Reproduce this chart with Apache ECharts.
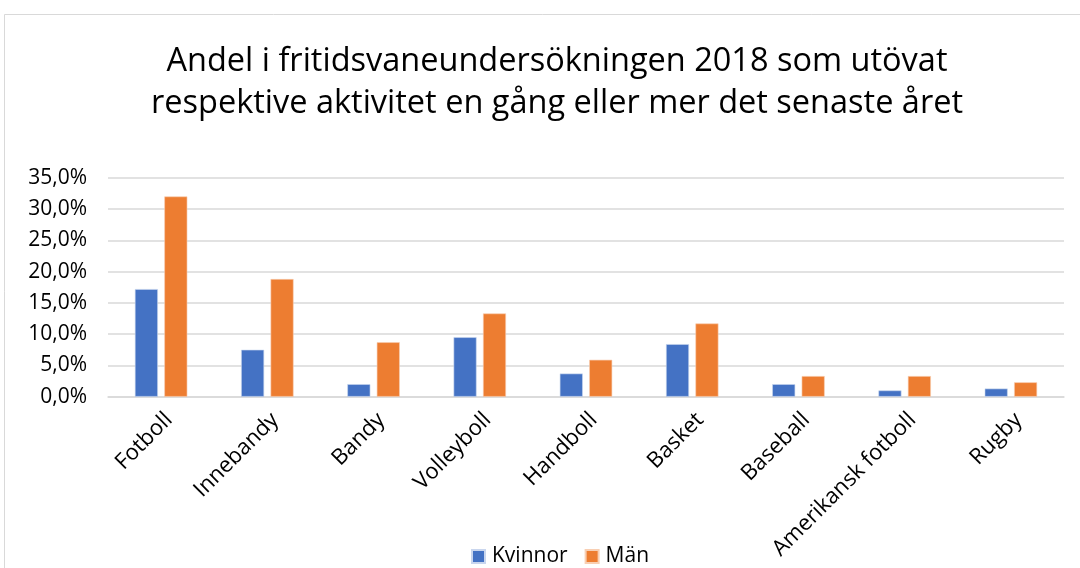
<!DOCTYPE html>
<html>
<head>
<meta charset="utf-8">
<script src="https://cdn.jsdelivr.net/npm/echarts@6/dist/echarts.min.js"></script>
<style>html,body{margin:0;padding:0;background:#fff;}#c{width:1080px;height:568px;}</style>
</head>
<body>
<div id="c"></div>
<script>
const titleText = 'Andel i fritidsvaneundersökningen 2018 som utövat\nrespektive aktivitet en gång eller mer det senaste året';
const categories = ['Fotboll','Innebandy','Bandy','Volleyboll','Handboll','Basket','Baseball','Amerikansk fotboll','Rugby'];
const seriesNames = ['Kvinnor','Män'];
const kvinnor = [17.2, 7.5, 2.0, 9.5, 3.7, 8.4, 2.0, 1.0, 1.3];
const man = [32.0, 18.8, 8.7, 13.3, 5.9, 11.7, 3.3, 3.3, 2.3];
const yTicks = [0, 5, 10, 15, 20, 25, 30, 35];

const FONT = 'Open Sans';
const fmt = v => v.toFixed(1).replace('.', ',') + '%';

const chart = echarts.init(document.getElementById('c'), null, {renderer: 'canvas'});
chart.setOption({
  backgroundColor: '#fff',
  animation: false,
  graphic: [{
    type: 'rect', silent: true, z: -1,
    shape: {x: 4.5, y: 14.5, width: 1200, height: 700},
    style: {fill: '#fff', stroke: '#d9d9d9', lineWidth: 1}
  }],
  title: {
    text: titleText,
    left: 552, top: 36, textAlign: 'center',
    textStyle: {fontFamily: FONT, fontSize: 32.5, fontWeight: 'normal', color: '#000', lineHeight: 42}
  },
  legend: {
    data: seriesNames,
    left: 466, top: 541,
    itemWidth: 13, itemHeight: 13, itemGap: 17,
    icon: 'rect',
    textStyle: {fontFamily: FONT, fontSize: 21, color: '#000', padding: [0, 0, 0, 2]}
  },
  grid: {left: 108, right: 16, top: 177.7, bottom: 171.3, containLabel: false},
  xAxis: {
    type: 'category', data: categories,
    axisLine: {lineStyle: {color: '#d9d9d9', width: 1.5}},
    axisTick: {show: false},
    axisLabel: {interval: 0, rotate: 45, margin: 12, align: 'right', verticalAlign: 'top',
                fontFamily: FONT, fontSize: 22, color: '#000'}
  },
  yAxis: {
    type: 'value', min: yTicks[0], max: yTicks[yTicks.length - 1], interval: 5,
    axisLine: {show: false}, axisTick: {show: false},
    splitLine: {lineStyle: {color: '#d9d9d9', width: 1.5}},
    axisLabel: {formatter: fmt, margin: 21, fontFamily: FONT, fontSize: 21, color: '#000'}
  },
  series: [
    {name: seriesNames[0], type: 'bar', data: kvinnor, barWidth: 23, barGap: '28%',
     itemStyle: {color: '#4472C4', borderColor: '#c9d6ee', borderWidth: 0.6}},
    {name: seriesNames[1], type: 'bar', data: man, barWidth: 23, barGap: '28%',
     itemStyle: {color: '#ED7D31', borderColor: '#f8cfb3', borderWidth: 0.6}}
  ]
});
</script>
</body>
</html>
